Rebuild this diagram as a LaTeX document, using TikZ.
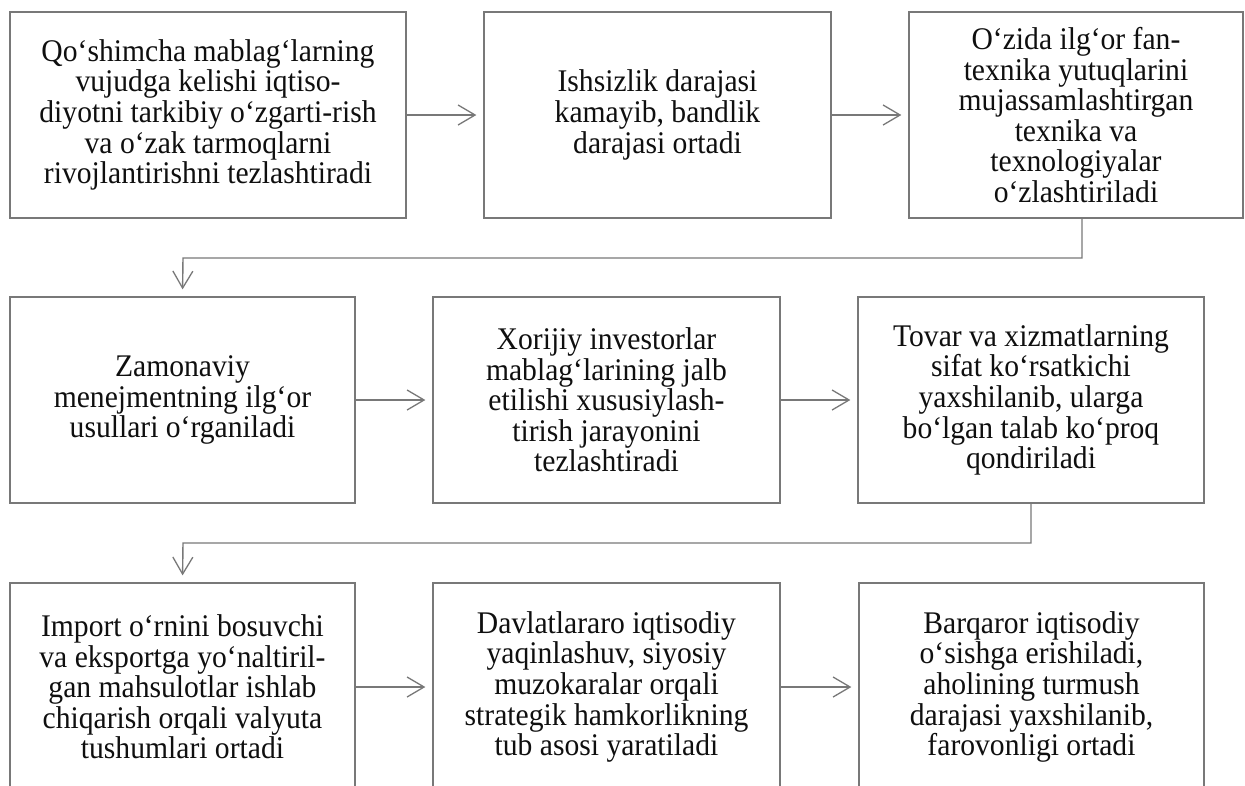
\documentclass[tikz,border=0pt]{standalone}
\usepackage{fontspec}
\setmainfont{Liberation Serif}
\newfontfamily\boxfont[FakeStretch=0.94]{Liberation Serif}
\usetikzlibrary{arrows.meta}
\definecolor{linegray}{RGB}{120,120,120}
\definecolor{txt}{RGB}{15,15,15}
\tikzset{
  box/.style={draw=linegray, line width=1.3pt, rectangle, align=center, inner sep=0pt,
    minimum height=206pt, text=txt, font=\boxfont\fontsize{31.5}{30.6}\selectfont},
  conn/.style={draw=linegray, line width=1.4pt, -{Straight Barb[length=17pt,width=20pt,line width=1.3pt]}, shorten >=7pt},
}
\begin{document}
\begin{tikzpicture}[x=1pt,y=-1pt]
\useasboundingbox (0,0) rectangle (1245,785);
\clip (0,0) rectangle (1245,785);
\fill[white] (0,0) rectangle (1245,785);
% row 1
\node[box, minimum width=396pt] (b1) at (208,115) {Qo‘shimcha mablag‘larning\\vujudga kelishi iqtiso-\\diyotni tarkibiy o‘zgarti-rish\\va o‘zak tarmoqlarni\\rivojlantirishni tezlashtiradi};
\node[box, minimum width=347pt] (b2) at (657.5,115) {Ishsizlik darajasi\\kamayib, bandlik\\darajasi ortadi};
\node[box, minimum width=334pt] (b3) at (1076,115) {O‘zida ilg‘or fan-\\texnika yutuqlarini\\mujassamlashtirgan\\texnika va\\texnologiyalar\\o‘zlashtiriladi};
% row 2
\node[box, minimum width=345pt] (b4) at (182.5,400) {Zamonaviy\\menejmentning ilg‘or\\usullari o‘rganiladi};
\node[box, minimum width=347pt] (b5) at (606.5,400) {Xorijiy investorlar\\mablag‘larining jalb\\etilishi xususiylash-\\tirish jarayonini\\tezlashtiradi};
\node[box, minimum width=346pt] (b6) at (1031,400) {Tovar va xizmatlarning\\sifat ko‘rsatkichi\\yaxshilanib, ularga\\bo‘lgan talab ko‘proq\\qondiriladi};
% row 3
\node[box, minimum width=345pt, minimum height=208pt] (b7) at (182.5,687) {Import o‘rnini bosuvchi\\va eksportga yo‘naltiril-\\gan mahsulotlar ishlab\\chiqarish orqali valyuta\\tushumlari ortadi};
\node[box, minimum width=347pt, minimum height=208pt] (b8) at (606.5,687) {Davlatlararo iqtisodiy\\yaqinlashuv, siyosiy\\muzokaralar orqali\\strategik hamkorlikning\\tub asosi yaratiladi};
\node[box, minimum width=345pt, minimum height=208pt] (b9) at (1031.5,687) {Barqaror iqtisodiy\\o‘sishga erishiladi,\\aholining turmush\\darajasi yaxshilanib,\\farovonligi ortadi};
% connectors
\coordinate (t1) at (183,258);
\coordinate (t2) at (183,543);
\draw[conn] (b1.east) -- (b2.west);
\draw[conn] (b2.east) -- (b3.west);
\draw[conn] ([xshift=6pt]b3.south) |- (t1) -- (b4.north);
\draw[conn] (b4.east) -- (b5.west);
\draw[conn] (b5.east) -- (b6.west);
\draw[conn] (b6.south) |- (t2) -- (b7.north);
\draw[conn] (b7.east) -- (b8.west);
\draw[conn] (b8.east) -- (b9.west);
\end{tikzpicture}
\end{document}
